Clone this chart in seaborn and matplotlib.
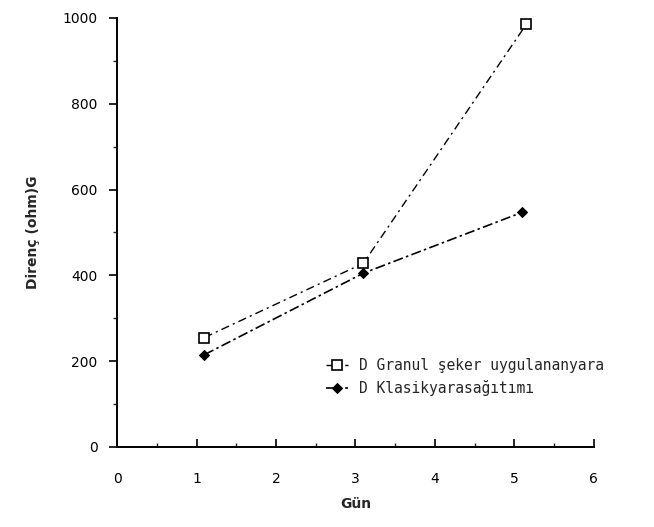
import matplotlib
matplotlib.use("Agg")
import matplotlib.pyplot as plt
import seaborn as sns
import pandas as pd
from matplotlib.ticker import MultipleLocator

granul_x = [1.1, 3.1, 5.15]
granul_y = [255, 428, 985]
klasik_x = [1.1, 3.1, 5.1]
klasik_y = [215, 405, 547]
label_granul = "D Granul şeker uygulananyara"
label_klasik = "D Klasikyarasağıtımı"
x_ticks = [0, 1, 2, 3, 4, 5, 6]
y_ticks = [0, 200, 400, 600, 800, 1000]

sns.set_style("ticks")
plt.rcParams['font.family'] = ['DejaVu Sans']

fig = plt.figure(figsize=(6.54, 5.27), dpi=100)
ax = fig.add_axes([0.179, 0.152, 0.729, 0.814])

df_g = pd.DataFrame({"x": granul_x, "y": granul_y})
df_k = pd.DataFrame({"x": klasik_x, "y": klasik_y})

sns.lineplot(data=df_g, x="x", y="y", ax=ax, color="black", lw=1.0,
             linestyle=(0, (6, 3, 1.5, 3)), marker="s", markersize=7,
             markerfacecolor="white", markeredgecolor="black", markeredgewidth=1.2,
             label=label_granul)
sns.lineplot(data=df_k, x="x", y="y", ax=ax, color="black", lw=1.2,
             linestyle=(0, (6, 2, 1.5, 2)), marker="D", markersize=5,
             markerfacecolor="black", markeredgecolor="black",
             label=label_klasik)

ax.set_xlim(0, 6)
ax.set_ylim(0, 1000)
ax.set_xticks(x_ticks)
ax.set_yticks(y_ticks)
ax.xaxis.set_minor_locator(MultipleLocator(0.5))
ax.yaxis.set_minor_locator(MultipleLocator(100))
ax.tick_params(axis="both", which="major", direction="out", length=6, width=1.2,
               labelsize=10, colors="black", labelcolor="black", pad=8)
ax.tick_params(axis="both", which="minor", direction="out", length=3, width=1.0)
ax.tick_params(axis="x", which="both", direction="in")
ax.tick_params(axis="x", which="major", length=6, pad=18)

for s in ["top", "right"]:
    ax.spines[s].set_visible(False)
for s in ["left", "bottom"]:
    ax.spines[s].set_linewidth(1.4)
    ax.spines[s].set_color("black")

ax.set_xlabel("Gün", fontsize=10, fontweight="bold", labelpad=8)
ax.set_ylabel("Direnç (ohm)G", fontsize=10, fontweight="bold", labelpad=16)

leg = ax.legend(loc="lower left", bbox_to_anchor=(0.41, 0.088), frameon=False,
                prop={"family": "DejaVu Sans Mono", "size": 10.5},
                handlelength=1.5, handletextpad=0.8, labelspacing=0.45)

fig.savefig("out.png", dpi=100)
